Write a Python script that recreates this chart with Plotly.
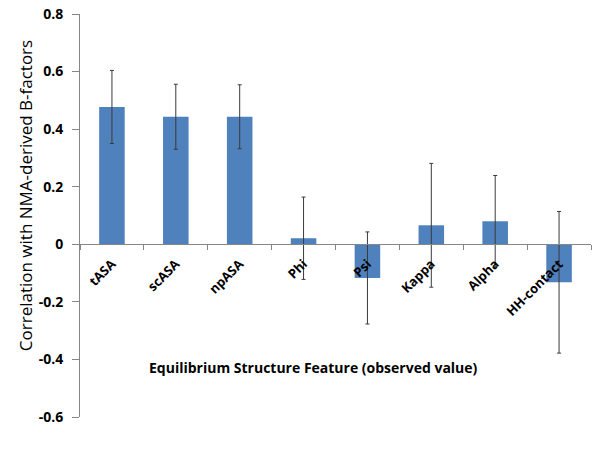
import plotly.graph_objects as go

categories = ["tASA", "scASA", "npASA", "Phi", "Psi", "Kappa", "Alpha", "HH-contact"]
values = [0.477, 0.443, 0.443, 0.021, -0.117, 0.066, 0.080, -0.132]
errors = [0.127, 0.113, 0.111, 0.143, 0.160, 0.215, 0.159, 0.246]
y_ticks = [0.8, 0.6, 0.4, 0.2, 0, -0.2, -0.4, -0.6]
y_tick_labels = ["0.8", "0.6", "0.4", "0.2", "0", "-0.2", "-0.4", "-0.6"]

axis_grey = "#868686"
font_family = "Open Sans"

fig = go.Figure()
fig.add_trace(go.Bar(
    x=categories, y=values,
    marker=dict(color="#4F81BD", line=dict(width=0)),
    width=0.4,
    error_y=dict(type="data", array=errors, visible=True,
                 color="#3a3a3a", thickness=1, width=2),
))

y_min, y_max = -0.6, 0.8
fig.update_layout(
    width=600, height=450,
    margin=dict(l=80, r=9, t=14, b=33, autoexpand=False),
    plot_bgcolor="white", paper_bgcolor="white",
    showlegend=False,
    font=dict(family=font_family, color="black"),
    xaxis=dict(
        type="category", automargin=False,
        anchor="free", position=(0 - y_min) / (y_max - y_min),
        showline=True, linecolor=axis_grey, linewidth=1,
        ticks="outside", tickson="boundaries", ticklen=5, tickcolor=axis_grey,
        tickangle=-45, ticklabelstandoff=6, ticklabeloverflow="allow",
        tickfont=dict(family=font_family, size=13, color="black", weight="bold"),
        showgrid=False, zeroline=False,
    ),
    yaxis=dict(
        range=[y_min, y_max], automargin=False,
        tickvals=y_ticks, ticktext=y_tick_labels,
        showline=True, linecolor=axis_grey, linewidth=1,
        ticks="outside", ticklen=7, tickcolor=axis_grey,
        ticklabelstandoff=6, ticklabeloverflow="allow",
        tickfont=dict(family=font_family, size=14, color="black", weight="bold"),
        showgrid=False, zeroline=False,
    ),
    annotations=[
        dict(text="Equilibrium Structure Feature (observed value)",
             xref="paper", yref="paper", x=0.456, y=0.1216,
             xanchor="center", yanchor="middle", showarrow=False,
             font=dict(family=font_family, size=14, color="black", weight="bold")),
        dict(text="Correlation with NMA-derived B-factors",
             xref="paper", yref="paper", x=-0.1076, y=0.548,
             xanchor="center", yanchor="middle", textangle=-90, showarrow=False,
             font=dict(family=font_family, size=17, color="black")),
    ],
)

fig.write_html("out.html", config={"displayModeBar": False},
               post_script="document.body.style.margin='0';")
